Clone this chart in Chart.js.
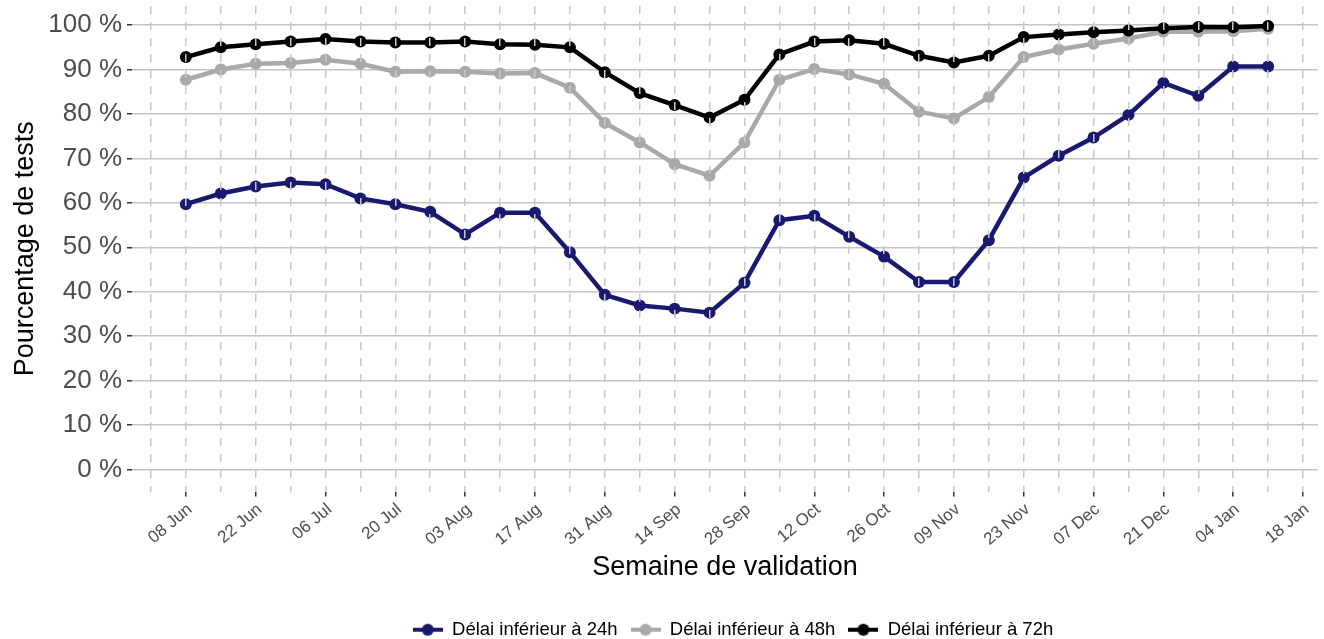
<!DOCTYPE html>
<html>
<head>
<meta charset="utf-8">
<script src="https://cdn.jsdelivr.net/npm/chart.js@4.4.1/dist/chart.umd.min.js"></script>
<style>
  html, body { margin: 0; padding: 0; background: #fff; }
</style>
</head>
<body>
<canvas id="chart" width="1324" height="639"></canvas>
<script>
// semaines (lundi) de validation
const weeks = [
  '2020-06-08', '2020-06-15', '2020-06-22', '2020-06-29', '2020-07-06', '2020-07-13',
  '2020-07-20', '2020-07-27', '2020-08-03', '2020-08-10', '2020-08-17', '2020-08-24',
  '2020-08-31', '2020-09-07', '2020-09-14', '2020-09-21', '2020-09-28', '2020-10-05',
  '2020-10-12', '2020-10-19', '2020-10-26', '2020-11-02', '2020-11-09', '2020-11-16',
  '2020-11-23', '2020-11-30', '2020-12-07', '2020-12-14', '2020-12-21', '2020-12-28',
  '2021-01-04', '2021-01-11'
];
const delai24 = [59.7, 62.1, 63.7, 64.6, 64.2, 61.0, 59.7, 58.0, 52.9, 57.8, 57.8, 48.9,
  39.3, 36.9, 36.2, 35.3, 42.0, 56.1, 57.1, 52.4, 47.9, 42.2, 42.2, 51.6,
  65.7, 70.6, 74.7, 79.8, 87.0, 84.1, 90.7, 90.7];
const delai48 = [87.7, 90.0, 91.3, 91.5, 92.2, 91.3, 89.5, 89.6, 89.5, 89.1, 89.2, 85.9,
  78.0, 73.6, 68.7, 66.1, 73.6, 87.7, 90.1, 88.9, 86.8, 80.5, 79.0, 83.8,
  92.8, 94.5, 95.8, 97.0, 98.5, 98.5, 98.6, 99.2];
const delai72 = [92.8, 95.0, 95.7, 96.3, 96.9, 96.3, 96.1, 96.1, 96.3, 95.7, 95.6, 95.0,
  89.4, 84.7, 82.0, 79.2, 83.2, 93.4, 96.3, 96.6, 95.8, 93.1, 91.6, 93.1,
  97.3, 97.9, 98.4, 98.8, 99.3, 99.6, 99.5, 99.8];
const seriesNames = ['Délai inférieur à 24h', 'Délai inférieur à 48h', 'Délai inférieur à 72h'];
const seriesColors = ['#191970', '#a9a9a9', '#000000'];

// graduations : une étiquette toutes les deux semaines à partir du 08 Jun
const xTickLabels = ['08 Jun', '22 Jun', '06 Jul', '20 Jul', '03 Aug', '17 Aug', '31 Aug',
  '14 Sep', '28 Sep', '12 Oct', '26 Oct', '09 Nov', '23 Nov', '07 Dec', '21 Dec',
  '04 Jan', '18 Jan'];
const yTicks = [0, 10, 20, 30, 40, 50, 60, 70, 80, 90, 100];

const DAY = 86400000;
const start = Date.UTC(2020, 5, 8);
function dayOf(s) {
  const [y, m, d] = s.split('-').map(Number);
  return Math.round((Date.UTC(y, m - 1, d) - start) / DAY);
}
const xDays = weeks.map(dayOf);
// grille hebdomadaire (01 Jun -> 18 Jan)
const xGrid = [];
for (let d = -7; d <= 14 * (xTickLabels.length - 1); d += 7) xGrid.push(d);

Chart.defaults.font.family = '"Liberation Sans", Arial, Helvetica, sans-serif';

function legendMarker(color) {
  const c = document.createElement('canvas');
  c.width = 30; c.height = 14;
  const g = c.getContext('2d');
  g.strokeStyle = color; g.lineWidth = 4;
  g.beginPath(); g.moveTo(0, 7); g.lineTo(30, 7); g.stroke();
  g.fillStyle = color;
  g.beginPath(); g.arc(15, 7, 6, 0, Math.PI * 2); g.fill();
  return c;
}

function makeSet(i, values) {
  const color = seriesColors[i];
  return {
    label: seriesNames[i],
    data: values.map((v, k) => ({ x: xDays[k], y: v })),
    borderColor: color,
    backgroundColor: color,
    pointBackgroundColor: color,
    borderWidth: 4.5,
    pointRadius: 6,
    pointBorderWidth: 0,
    pointHoverRadius: 6,
    tension: 0,
    order: 3 - i,
    marker: legendMarker(color)
  };
}

// decale la legende comme dans ggplot
const legendShift = {
  id: 'legendShift',
  afterLayout(chart) {
    const lg = chart.legend;
    lg.left += 8; lg.right += 8;
    lg.top += 10; lg.bottom += 10;
  }
};

new Chart(document.getElementById('chart'), {
  type: 'line',
  data: { datasets: [makeSet(0, delai24), makeSet(1, delai48), makeSet(2, delai72)] },
  plugins: [legendShift],
  options: {
    responsive: false,
    animation: false,
    layout: { padding: { top: 0, right: 2, left: 0, bottom: 0 } },
    plugins: {
      tooltip: { enabled: false },
      legend: {
        position: 'bottom',
        fullSize: false,
        labels: {
          usePointStyle: true,
          pointStyleWidth: 30,
          boxHeight: 14,
          padding: 13,
          color: '#000',
          font: { size: 18.5 },
          generateLabels(chart) {
            return chart.data.datasets.map((ds, i) => ({
              text: ds.label,
              pointStyle: ds.marker,
              fillStyle: ds.borderColor,
              strokeStyle: ds.borderColor,
              lineWidth: 0,
              hidden: false,
              datasetIndex: i,
              fontColor: '#000'
            }));
          }
        }
      }
    },
    scales: {
      x: {
        type: 'linear',
        min: -10.8,
        max: 227,
        afterBuildTicks(scale) { scale.ticks = xGrid.map(v => ({ value: v })); },
        afterFit(scale) {
          scale.height = 106;
          scale.paddingLeft = 0;
          scale.paddingRight = 0;
        },
        grid: {
          color: '#c8c8c8',
          lineWidth: 1.5,
          z: 1,
          tickLength: 5,
          tickWidth: 1.5,
          tickColor: ctx => (ctx.tick && ctx.tick.value % 14 === 0) ? '#333333' : 'rgba(0,0,0,0)'
        },
        border: { display: false, dash: [8, 8] },
        ticks: {
          autoSkip: false,
          minRotation: 40,
          maxRotation: 40,
          padding: 3,
          labelOffset: 4,
          color: '#4d4d4d',
          font: { size: 17 },
          callback: v => (v % 14 === 0 ? xTickLabels[v / 14] : '')
        },
        title: {
          display: true,
          text: 'Semaine de validation',
          color: '#000',
          font: { size: 27, lineHeight: 1.2 },
          padding: { top: 4, bottom: 14 }
        }
      },
      y: {
        min: -4.95,
        max: 104.3,
        afterBuildTicks(scale) { scale.ticks = yTicks.map(v => ({ value: v })); },
        afterFit(scale) {
          scale.width = 132;
          scale.paddingTop = 0;
          scale.paddingBottom = 0;
        },
        grid: {
          color: '#c4c4c4',
          lineWidth: 1.5,
          tickLength: 5,
          tickWidth: 1.5,
          tickColor: '#333333'
        },
        border: { display: false },
        ticks: {
          color: '#4d4d4d',
          font: { size: 26 },
          padding: 5,
          callback: v => v + ' %'
        },
        title: {
          display: true,
          text: 'Pourcentage de tests',
          color: '#000',
          font: { size: 27, lineHeight: 1.2 },
          padding: { top: 9, bottom: 0 }
        }
      }
    }
  }
});
</script>
</body>
</html>
